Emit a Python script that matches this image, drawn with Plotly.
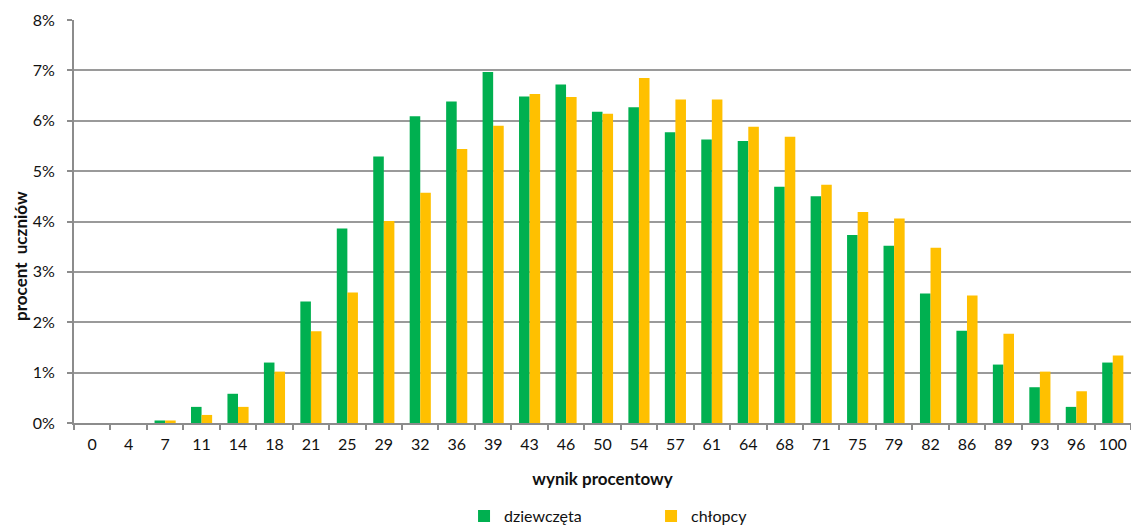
import plotly.graph_objects as go

categories = ["0", "4", "7", "11", "14", "18", "21", "25", "29", "32", "36", "39", "43", "46", "50",
              "54", "57", "61", "64", "68", "71", "75", "79", "82", "86", "89", "93", "96", "100"]
dziewczeta = [0.0, 0.0, 0.05, 0.32, 0.58, 1.20, 2.41, 3.86, 5.29, 6.09, 6.38, 6.97, 6.48, 6.72, 6.18,
              6.27, 5.77, 5.63, 5.60, 4.69, 4.50, 3.73, 3.52, 2.57, 1.83, 1.16, 0.71, 0.32, 1.20]
chlopcy = [0.0, 0.0, 0.05, 0.16, 0.32, 1.02, 1.82, 2.59, 4.01, 4.57, 5.44, 5.90, 6.53, 6.47, 6.14,
           6.85, 6.42, 6.42, 5.88, 5.68, 4.73, 4.19, 4.06, 3.48, 2.53, 1.77, 1.02, 0.63, 1.34]
y_ticks = [0, 1, 2, 3, 4, 5, 6, 7, 8]
y_tick_labels = [f"{v}%" for v in y_ticks]

FONT = "Lato, Carlito, 'Open Sans', sans-serif"

fig = go.Figure()
fig.add_trace(go.Bar(x=categories, y=dziewczeta, name="dziewczęta",
                     marker=dict(color="#00B050", line=dict(width=0))))
fig.add_trace(go.Bar(x=categories, y=chlopcy, name="chłopcy",
                     marker=dict(color="#FFC000", line=dict(width=0))))

fig.update_layout(
    width=1131, height=525,
    margin=dict(l=74, r=0, t=20, b=102, autoexpand=False),
    paper_bgcolor="white", plot_bgcolor="white",
    barmode="group", bargap=0.42, bargroupgap=0,
    font=dict(family=FONT, size=16, color="#111111"),
    showlegend=True,
    legend=dict(orientation="h", x=0.369, xanchor="left",
                yref="container", y=0.017, yanchor="middle",
                font=dict(size=16), entrywidth=142, entrywidthmode="pixels",
                itemclick=False),
    xaxis=dict(
        type="category", showline=True, linecolor="#8c8c8c", linewidth=2,
        ticks="outside", tickson="boundaries", ticklen=5, tickcolor="#8c8c8c", tickwidth=2,
        showgrid=False, ticklabelstandoff=6, tickangle=0, tickfont=dict(size=16),
        automargin=False,
        title=dict(text="<b>wynik procentowy</b>", font=dict(size=17), standoff=21),
    ),
    yaxis=dict(
        range=[0, 8], tickvals=y_ticks, ticktext=y_tick_labels,
        showgrid=True, gridcolor="#9a9a9a", gridwidth=2,
        showline=True, linecolor="#8c8c8c", linewidth=2,
        ticks="outside", ticklen=5, tickcolor="#8c8c8c", tickwidth=2,
        zeroline=False, ticklabelstandoff=9, automargin=False,
    ),
)

fig.add_annotation(text="<b>procent  uczniów</b>", xref="paper", yref="paper",
                   x=-0.05, y=0.415, textangle=-90, showarrow=False,
                   xanchor="center", yanchor="middle", font=dict(size=17))

fig.write_html("out.html", config={"displayModeBar": False},
               post_script="document.body.style.margin='0';")
